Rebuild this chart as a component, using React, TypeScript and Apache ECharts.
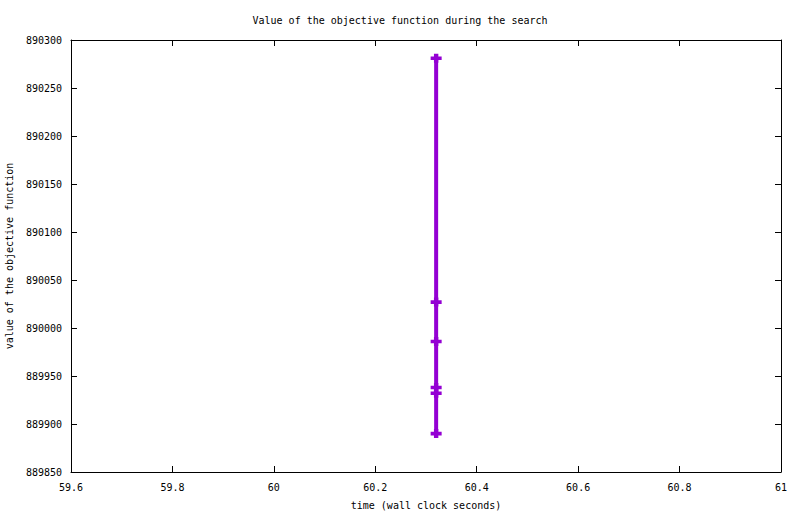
import React, { useEffect, useRef } from "react";
import * as echarts from "echarts";

const chartTitle = "Value of the objective function during the search";
const xAxisName = "time (wall clock seconds)";
const yAxisName = "value of the objective function";
const times = [60.32, 60.32, 60.32, 60.32, 60.32, 60.32];
const values = [890281, 890027, 889986, 889938, 889932, 889890];
const xMin = 59.6;
const xMax = 61;
const xStep = 0.2;
const yMin = 889850;
const yMax = 890300;
const yStep = 50;

const FONT = "DejaVu Sans Mono";
const COLOR = "#9400d3";
const PLUS = "path://M3,0H7V3H10V7H7V10H3V7H0V3H3Z";

export default function App() {
  const ref = useRef<HTMLDivElement>(null);
  useEffect(() => {
    if (!ref.current) return;
    const chart = echarts.init(ref.current, null, { renderer: "svg" });
    const data = times.map((t, i) => [t, values[i]]);
    const common = {
      axisLine: { show: true, lineStyle: { color: "#000", width: 1 } },
      axisTick: { show: true, inside: true, length: 6, lineStyle: { color: "#000" } },
      splitLine: { show: false },
    };
    chart.setOption({
      animation: false,
      backgroundColor: "#fff",
      textStyle: { fontFamily: FONT },
      title: {
        text: chartTitle,
        left: "center",
        top: 10,
        textStyle: { fontFamily: FONT, fontSize: 10, fontWeight: "normal", color: "#000" },
      },
      grid: { left: 71, right: 19, top: 40, bottom: 42, containLabel: false, outerBoundsMode: "none" },
      xAxis: [
        {
          type: "value",
          min: xMin,
          max: xMax,
          interval: xStep,
          position: "bottom",
          name: xAxisName,
          nameLocation: "middle",
          nameGap: 28,
          nameTextStyle: { fontFamily: FONT, fontSize: 10, color: "#000" },
          axisLabel: { fontFamily: FONT, fontSize: 10, color: "#000", margin: 10, formatter: (v: number) => String(Math.round(v * 10) / 10) },
          ...common,
        },
        {
          type: "value",
          min: xMin,
          max: xMax,
          interval: xStep,
          position: "top",
          axisLabel: { show: false },
          ...common,
        },
      ],
      yAxis: [
        {
          type: "value",
          min: yMin,
          max: yMax,
          interval: yStep,
          position: "left",
          name: yAxisName,
          nameLocation: "middle",
          nameGap: 55,
          nameTextStyle: { fontFamily: FONT, fontSize: 10, color: "#000" },
          axisLabel: { fontFamily: FONT, fontSize: 10, color: "#000", margin: 9, formatter: (v: number) => String(v) },
          ...common,
        },
        {
          type: "value",
          min: yMin,
          max: yMax,
          interval: yStep,
          position: "right",
          axisLabel: { show: false },
          ...common,
        },
      ],
      series: [
        {
          type: "line",
          data,
          lineStyle: { color: COLOR, width: 4 },
          itemStyle: { color: COLOR },
          symbol: PLUS,
          symbolSize: [11, 9],
          showSymbol: true,
        },
      ],
    });
    return () => chart.dispose();
  }, []);
  return <div ref={ref} style={{ width: 800, height: 514, position: "fixed", left: 0, top: 0 }} />;
}
